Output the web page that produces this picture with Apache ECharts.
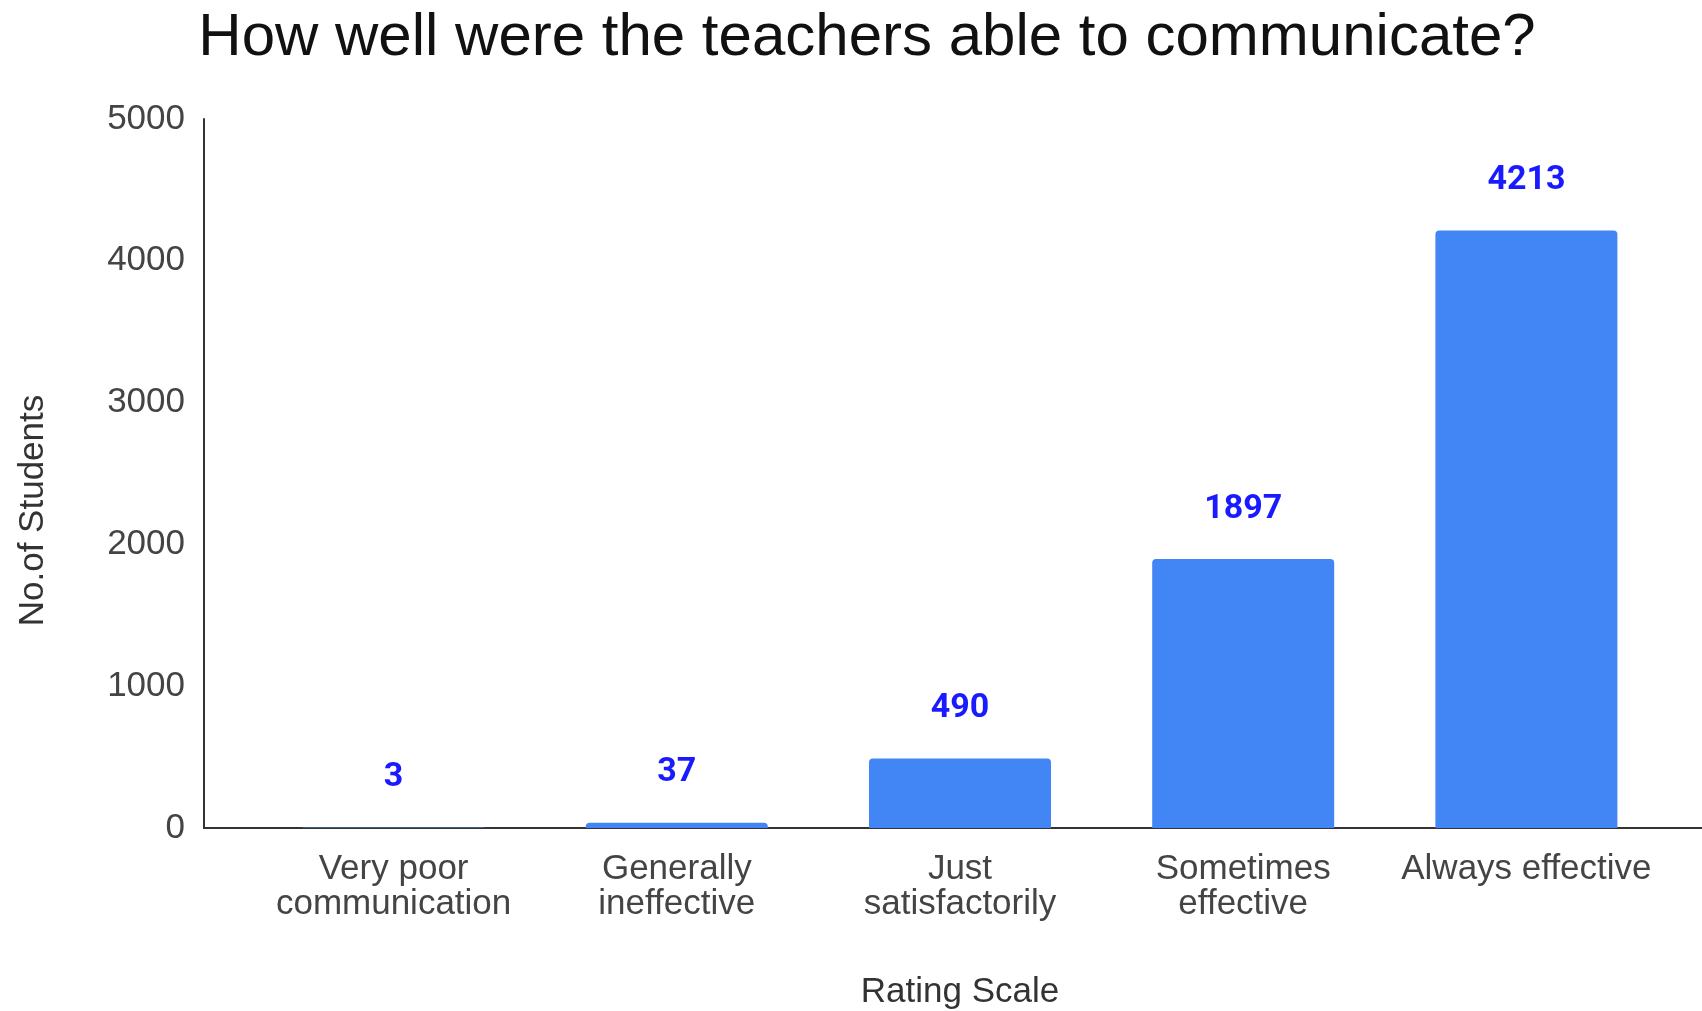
<!DOCTYPE html>
<html>
<head>
<meta charset="utf-8">
<script src="https://cdn.jsdelivr.net/npm/echarts@6/dist/echarts.min.js"></script>
<style>
html,body{margin:0;padding:0;background:#fff;}
#chart{width:1702px;height:1011px;}
</style>
</head>
<body>
<div id="chart"></div>
<script>
const titleText = 'How well were the teachers able to communicate?';
const categories = ['Very poor\ncommunication', 'Generally\nineffective', 'Just\nsatisfactorily', 'Sometimes\neffective', 'Always effective'];
const students = [3, 37, 490, 1897, 4213];
const yTicks = { min: 0, max: 5000, interval: 1000 };
const xAxisName = 'Rating Scale';
const yAxisName = 'No.of Students';

const font = 'Liberation Sans, Arial, sans-serif';
const chart = echarts.init(document.getElementById('chart'), null, { renderer: 'canvas' });
chart.setOption({
  backgroundColor: '#ffffff',
  animation: false,
  title: {
    text: titleText,
    left: 862, textAlign: 'center', top: 3,
    textStyle: { fontFamily: font, fontSize: 60, fontWeight: 'normal', color: '#111111' }
  },
  grid: [
    { left: 252, right: 34, top: 119, bottom: 183, containLabel: false, outerBoundsMode: 'none' },
    { left: 204, right: 0, top: 119, bottom: 183, containLabel: false, outerBoundsMode: 'none' }
  ],
  xAxis: [
    {
      type: 'category', data: categories, gridIndex: 0,
      axisLine: { show: false }, axisTick: { show: false },
      axisLabel: { fontFamily: font, fontSize: 35, lineHeight: 35, color: '#444444', margin: 24, interval: 0 },
      name: xAxisName, nameLocation: 'middle', nameGap: 147,
      nameTextStyle: { fontFamily: font, fontSize: 35, color: '#333333' }
    },
    {
      type: 'value', gridIndex: 1, min: 0, max: 1,
      axisLine: { show: true, lineStyle: { color: '#333333', width: 2 } },
      axisTick: { show: false }, axisLabel: { show: false }, splitLine: { show: false }
    }
  ],
  yAxis: [
    {
      type: 'value', gridIndex: 0, min: yTicks.min, max: yTicks.max, interval: yTicks.interval,
      offset: 48,
      axisLine: { show: true, lineStyle: { color: '#333333', width: 2 } },
      axisTick: { show: false }, splitLine: { show: false },
      axisLabel: { fontFamily: font, fontSize: 35, color: '#444444', margin: 19, formatter: v => String(v) },
      name: yAxisName, nameLocation: 'middle', nameGap: 153, nameRotate: 90,
      nameTextStyle: { fontFamily: font, fontSize: 35, color: '#333333', padding: [0, 74, 0, 0] }
    },
    {
      type: 'value', gridIndex: 1, show: false, min: 0, max: 1
    }
  ],
  series: [
    {
      type: 'bar', xAxisIndex: 0, yAxisIndex: 0,
      data: students,
      barWidth: 182,
      itemStyle: { color: '#4285F4', borderRadius: [4, 4, 0, 0] },
      label: {
        show: true, position: 'top', distance: 33,
        fontFamily: 'Roboto, sans-serif', fontWeight: 'bold', fontSize: 34, color: '#1a1aff'
      }
    }
  ]
});
</script>
</body>
</html>
